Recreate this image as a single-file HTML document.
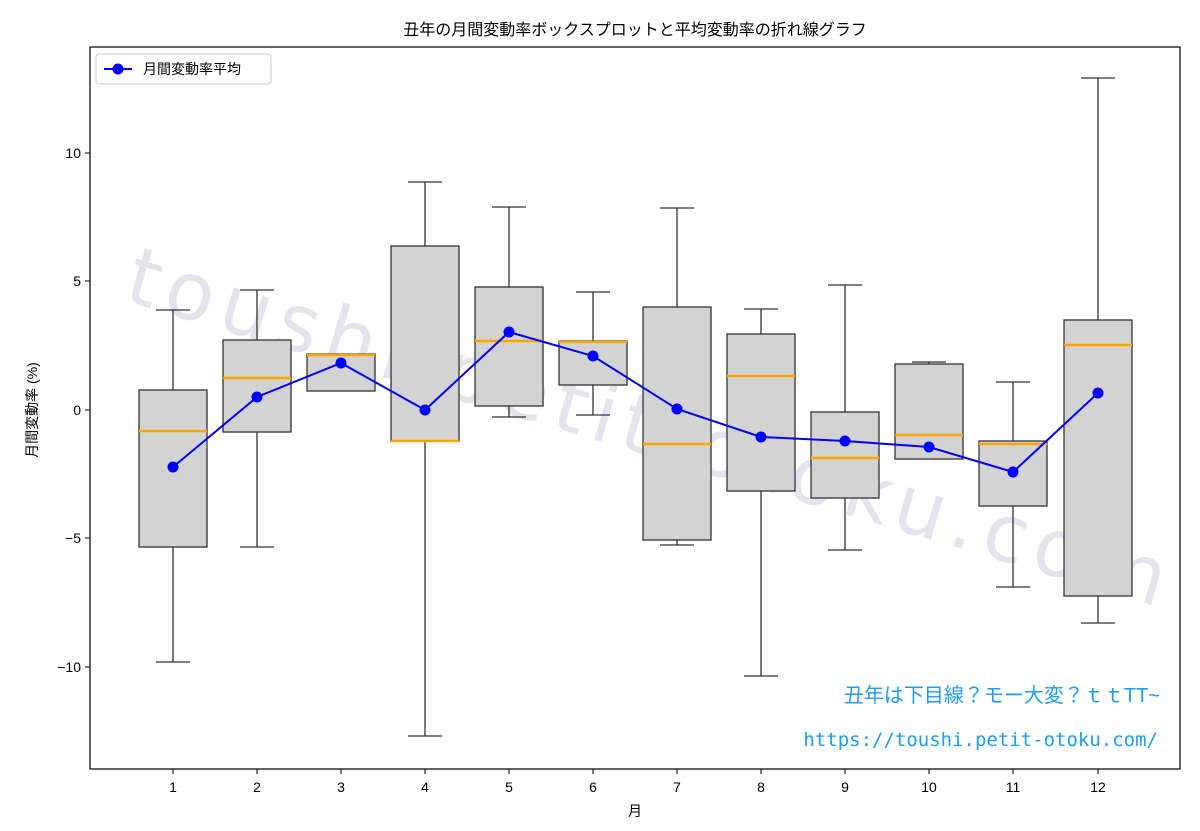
<!DOCTYPE html>
<html><head><meta charset="utf-8"><style>
body{margin:0;background:#fff;}
svg text{font-family:"Liberation Sans","Noto Sans CJK JP",sans-serif;}
</style></head><body>
<svg width="1200" height="826" xmlns="http://www.w3.org/2000/svg">
<rect width="1200" height="826" fill="#fff"/>
<text x="635" y="35" font-size="16" text-anchor="middle" fill="#000">丑年の月間変動率ボックスプロットと平均変動率の折れ線グラフ</text>
<!-- watermark -->
<text transform="translate(122,300) rotate(16.5)" font-size="80" fill="#e4e4ee" textLength="1080" lengthAdjust="spacing" style="font-family:'DejaVu Sans',sans-serif;font-weight:normal">toushi.petit-otoku.com</text>
<g stroke="#333" stroke-width="1.3" fill="#d3d3d3">
<line x1="173" y1="310" x2="173" y2="390"/><line x1="173" y1="547" x2="173" y2="662"/><line x1="156" y1="310" x2="190" y2="310"/><line x1="156" y1="662" x2="190" y2="662"/><rect x="139" y="390" width="68" height="157"/>
<line x1="257" y1="290" x2="257" y2="340"/><line x1="257" y1="432" x2="257" y2="547"/><line x1="240" y1="290" x2="274" y2="290"/><line x1="240" y1="547" x2="274" y2="547"/><rect x="223" y="340" width="68" height="92"/>
<rect x="307" y="354" width="68" height="37"/>
<line x1="425" y1="182" x2="425" y2="246"/><line x1="425" y1="441" x2="425" y2="736"/><line x1="408" y1="182" x2="442" y2="182"/><line x1="408" y1="736" x2="442" y2="736"/><rect x="391" y="246" width="68" height="195"/>
<line x1="509" y1="207" x2="509" y2="287"/><line x1="509" y1="406" x2="509" y2="417"/><line x1="492" y1="207" x2="526" y2="207"/><line x1="492" y1="417" x2="526" y2="417"/><rect x="475" y="287" width="68" height="119"/>
<line x1="593" y1="292" x2="593" y2="341"/><line x1="593" y1="385" x2="593" y2="415"/><line x1="576" y1="292" x2="610" y2="292"/><line x1="576" y1="415" x2="610" y2="415"/><rect x="559" y="341" width="68" height="44"/>
<line x1="677" y1="208" x2="677" y2="307"/><line x1="677" y1="540" x2="677" y2="545"/><line x1="660" y1="208" x2="694" y2="208"/><line x1="660" y1="545" x2="694" y2="545"/><rect x="643" y="307" width="68" height="233"/>
<line x1="761" y1="309" x2="761" y2="334"/><line x1="761" y1="491" x2="761" y2="676"/><line x1="744" y1="309" x2="778" y2="309"/><line x1="744" y1="676" x2="778" y2="676"/><rect x="727" y="334" width="68" height="157"/>
<line x1="845" y1="285" x2="845" y2="412"/><line x1="845" y1="498" x2="845" y2="550"/><line x1="828" y1="285" x2="862" y2="285"/><line x1="828" y1="550" x2="862" y2="550"/><rect x="811" y="412" width="68" height="86"/>
<line x1="929" y1="362" x2="929" y2="364"/><line x1="912" y1="362" x2="946" y2="362"/><rect x="895" y="364" width="68" height="95"/>
<line x1="1013" y1="382" x2="1013" y2="441"/><line x1="1013" y1="506" x2="1013" y2="587"/><line x1="996" y1="382" x2="1030" y2="382"/><line x1="996" y1="587" x2="1030" y2="587"/><rect x="979" y="441" width="68" height="65"/>
<line x1="1098" y1="78" x2="1098" y2="320"/><line x1="1098" y1="596" x2="1098" y2="623"/><line x1="1081" y1="78" x2="1115" y2="78"/><line x1="1081" y1="623" x2="1115" y2="623"/><rect x="1064" y="320" width="68" height="276"/>
</g>
<g stroke="#ffa500" stroke-width="2.5">
<line x1="139" y1="431" x2="207" y2="431"/><line x1="223" y1="378" x2="291" y2="378"/><line x1="307" y1="355" x2="375" y2="355"/><line x1="391" y1="441" x2="459" y2="441"/><line x1="475" y1="341" x2="543" y2="341"/><line x1="559" y1="342" x2="627" y2="342"/><line x1="643" y1="444" x2="711" y2="444"/><line x1="727" y1="376" x2="795" y2="376"/><line x1="811" y1="458" x2="879" y2="458"/><line x1="895" y1="435" x2="963" y2="435"/><line x1="979" y1="444" x2="1047" y2="444"/><line x1="1064" y1="345" x2="1132" y2="345"/>
</g>
<polyline fill="none" stroke="#0000ff" stroke-width="2" points="173,467 257,397 341,363 425,410 509,332 593,356 677,409 761,437 845,441 929,447 1013,472 1098,393"/>
<g fill="#0000ff">
<circle cx="173" cy="467" r="5.5"/><circle cx="257" cy="397" r="5.5"/><circle cx="341" cy="363" r="5.5"/><circle cx="425" cy="410" r="5.5"/><circle cx="509" cy="332" r="5.5"/><circle cx="593" cy="356" r="5.5"/><circle cx="677" cy="409" r="5.5"/><circle cx="761" cy="437" r="5.5"/><circle cx="845" cy="441" r="5.5"/><circle cx="929" cy="447" r="5.5"/><circle cx="1013" cy="472" r="5.5"/><circle cx="1098" cy="393" r="5.5"/>
</g>
<rect x="90" y="47" width="1090" height="722" fill="none" stroke="#000" stroke-width="1.2"/>
<g stroke="#000" stroke-width="1"><line x1="85" y1="153" x2="90" y2="153"/><line x1="85" y1="281" x2="90" y2="281"/><line x1="85" y1="410" x2="90" y2="410"/><line x1="85" y1="538" x2="90" y2="538"/><line x1="85" y1="667" x2="90" y2="667"/></g>
<g font-size="14" text-anchor="end" fill="#000"><text x="81" y="158">10</text><text x="81" y="286">5</text><text x="81" y="415">0</text><text x="81" y="543">−5</text><text x="81" y="672">−10</text></g>
<g stroke="#000" stroke-width="1">
<line x1="173" y1="769" x2="173" y2="774"/><line x1="257" y1="769" x2="257" y2="774"/><line x1="341" y1="769" x2="341" y2="774"/><line x1="425" y1="769" x2="425" y2="774"/><line x1="509" y1="769" x2="509" y2="774"/><line x1="593" y1="769" x2="593" y2="774"/><line x1="677" y1="769" x2="677" y2="774"/><line x1="761" y1="769" x2="761" y2="774"/><line x1="845" y1="769" x2="845" y2="774"/><line x1="929" y1="769" x2="929" y2="774"/><line x1="1013" y1="769" x2="1013" y2="774"/><line x1="1098" y1="769" x2="1098" y2="774"/></g>
<g font-size="14" text-anchor="middle" fill="#000"><text x="173" y="792">1</text><text x="257" y="792">2</text><text x="341" y="792">3</text><text x="425" y="792">4</text><text x="509" y="792">5</text><text x="593" y="792">6</text><text x="677" y="792">7</text><text x="761" y="792">8</text><text x="845" y="792">9</text><text x="929" y="792">10</text><text x="1013" y="792">11</text><text x="1098" y="792">12</text></g>
<text x="635" y="816" font-size="14" text-anchor="middle">月</text>
<text transform="translate(37,410) rotate(-90)" font-size="14" text-anchor="middle">月間変動率 (%)</text>
<rect x="96" y="54" width="175" height="30" rx="3" fill="#fff" stroke="#ccc"/>
<line x1="104" y1="69" x2="132" y2="69" stroke="#0000ff" stroke-width="2"/><circle cx="118" cy="69" r="5.5" fill="#0000ff"/>
<text x="143" y="74" font-size="14">月間変動率平均</text>
<text x="1160" y="702" font-size="20" text-anchor="end" fill="#1e9bff">丑年は下目線？モー大変？ｔｔTT~</text>
<text x="1158" y="746" font-size="19" text-anchor="end" fill="#1e9bff" style="font-family:'DejaVu Sans Mono','Liberation Mono',monospace">https://toushi.petit-otoku.com/</text>
</svg>
</body></html>
